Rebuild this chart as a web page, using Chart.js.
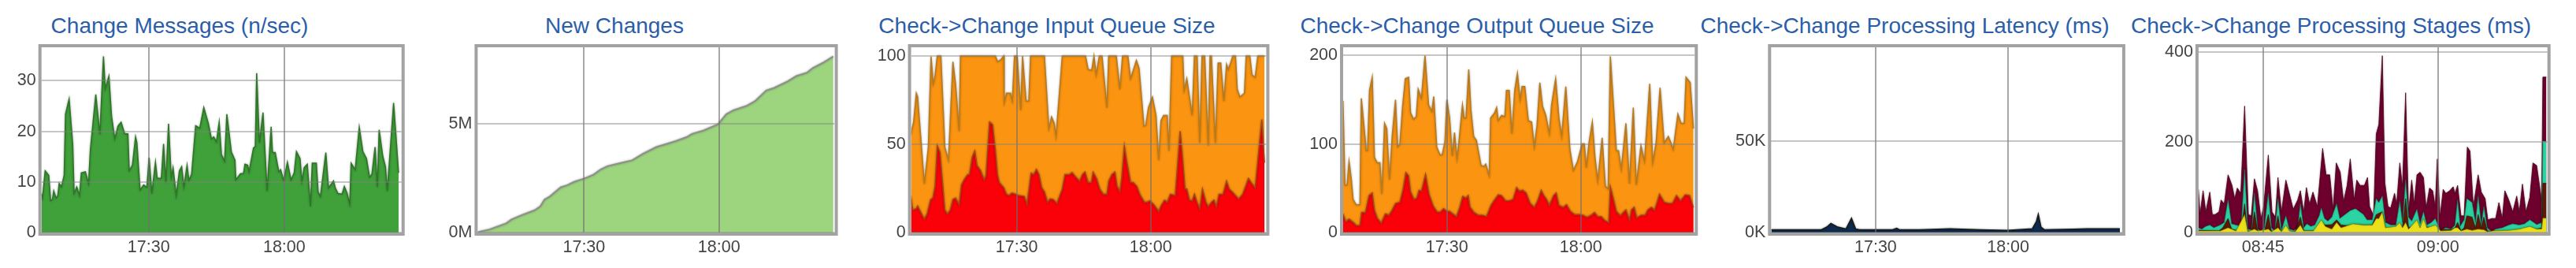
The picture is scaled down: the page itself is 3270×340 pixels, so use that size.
<!DOCTYPE html>
<html><head><meta charset="utf-8">
<script src="https://cdn.jsdelivr.net/npm/chart.js@4.4.1/dist/chart.umd.min.js"></script>
<style>
html,body{margin:0;padding:0;background:#fff;width:3270px;height:340px;overflow:hidden;position:relative;}
canvas{position:absolute;top:0;}
.title{position:absolute;top:19px;font-family:"Liberation Sans",Arial,sans-serif;font-size:28px;line-height:28px;color:#2b5ea9;white-space:nowrap;transform:translateX(-50%);}
</style></head><body>
<div class="title" style="left:228px">Change Messages (n/sec)</div>
<div class="title" style="left:780px">New Changes</div>
<div class="title" style="left:1329px">Check-&gt;Change Input Queue Size</div>
<div class="title" style="left:1875px">Check-&gt;Change Output Queue Size</div>
<div class="title" style="left:2418px">Check-&gt;Change Processing Latency (ms)</div>
<div class="title" style="left:2959px">Check-&gt;Change Processing Stages (ms)</div>
<canvas id="c1" width="545" height="340" style="left:0px"></canvas>
<canvas id="c2" width="545" height="340" style="left:545px"></canvas>
<canvas id="c3" width="545" height="340" style="left:1090px"></canvas>
<canvas id="c4" width="545" height="340" style="left:1635px"></canvas>
<canvas id="c5" width="545" height="340" style="left:2180px"></canvas>
<canvas id="c6" width="545" height="340" style="left:2725px"></canvas>
<script>
// ---- x tick labels (minutes after the hour) ----
const eveningTicks = [30, 60];
const eveningLabels = ['17:30', '18:00'];
const morningTicks = [45, 60];
const morningLabels = ['08:45', '09:00'];

// ---- Change Messages (n/sec); time = minutes after 17:00 ----
const msgTimes = [6.2,6.5,7.1,7.9,8.3,8.7,9.0,9.5,9.9,10.2,10.7,11.3,11.6,12.4,13.2,13.5,14.1,14.7,15.1,16.0,16.7,17.1,18.3,19.2,20.0,20.4,21.2,21.8,22.5,23.2,23.9,24.7,25.4,25.7,26.4,27.1,27.4,28.1,28.9,29.6,30.1,30.7,31.5,31.9,32.8,33.3,33.8,34.4,35.0,35.4,36.1,36.8,37.3,37.8,38.5,38.9,39.5,40.4,41.3,42.2,43.2,43.9,44.4,45.0,45.6,46.1,46.8,47.3,48.3,49.1,49.3,50.3,51.0,51.3,51.9,52.2,53.2,53.6,53.9,54.5,55.3,56.2,57.1,57.4,58.0,58.8,59.2,59.9,60.7,61.5,62.2,62.7,63.5,63.9,64.4,65.1,65.8,66.2,67.1,67.5,68.0,69.2,69.8,70.9,71.3,71.9,72.8,73.3,73.9,74.5,74.8,75.7,76.6,77.4,78.2,78.9,79.4,80.1,80.6,81.0,81.8,82.4,82.8,84.2,85.3];
const msgValues = [7.8,6.8,12.2,11.3,6.3,6.5,8.2,6.8,7.3,9.7,9.0,11.3,23.4,26.4,17.4,7.7,9.0,7.3,11.8,12.0,9.7,16.4,27.3,19.4,34.8,28.4,30.9,22.9,18.5,21.0,21.8,19.5,19.5,12.2,13.3,18.9,17.7,8.4,9.4,8.9,14.8,7.7,13.9,10.7,10.7,17.5,9.9,21.5,10.9,12.8,7.3,12.2,13.0,9.0,13.3,10.3,11.5,21.1,20.6,24.7,21.6,18.5,18.9,17.9,21.8,15.4,14.1,23.4,15.9,14.3,10.4,11.6,11.7,13.5,13.3,12.0,16.7,17.0,31.5,17.7,23.7,8.2,20.9,15.8,15.8,12.0,12.4,10.2,13.9,10.4,11.8,16.0,14.6,10.1,12.8,13.5,5.2,13.7,13.7,8.0,7.1,15.8,8.8,10.2,8.8,7.7,7.6,9.1,7.8,5.6,13.7,12.4,20.8,16.0,14.6,10.9,11.5,16.9,9.0,20.3,15.1,13.0,8.2,25.6,11.8];
const msgYTicks = [0, 10, 20, 30];

// ---- New Changes (millions) ----
const newTimes = [6.4,9.0,12.7,13.9,16.3,19.0,20.3,21.2,22.4,24.8,26.3,27.9,30.0,32.1,33.7,35.2,38.2,40.7,43.1,46.1,48.0,50.4,52.8,54.0,56.5,59.8,61.6,63.2,66.2,68.0,70.5,72.3,75.3,77.2,79.6,80.8,83.3,85.4];
const newMillions = [0.02,0.14,0.42,0.60,0.81,1.02,1.20,1.51,1.65,2.07,2.17,2.33,2.47,2.65,2.89,3.04,3.19,3.31,3.61,3.92,4.04,4.19,4.37,4.52,4.67,4.96,5.42,5.60,5.81,6.02,6.51,6.63,6.93,7.17,7.33,7.53,7.80,8.07];
const newYTicks = [0, 5];
const newYLabels = ['0M', '5M'];

// ---- Input queue size: max (orange) and avg (red) ----
const inMaxTimes = [6.2,6.9,7.5,7.8,9.3,10.2,10.8,11.3,11.7,12.2,13.0,13.9,14.7,15.1,15.7,16.3,17.1,17.4,25.2,25.7,26.4,27.1,27.2,27.7,28.6,29.0,29.5,30.1,30.9,31.3,32.1,32.7,33.1,36.2,37.2,37.8,38.4,38.8,40.2,45.4,46.0,46.8,47.3,47.8,48.5,49.1,50.2,50.6,52.3,53.1,53.7,54.9,55.5,56.8,57.4,58.5,58.9,59.5,60.4,61.2,61.8,62.3,62.9,63.7,64.1,64.7,67.2,67.5,68.1,69.3,69.8,70.4,71.0,71.5,72.1,72.9,73.3,73.6,74.5,75.1,75.7,76.4,77.0,77.4,77.9,78.4,79.0,79.4,80.0,81.0,81.4,82.2,82.7,83.4,84.0,85.5];
const inMaxValues = [55.1,62.6,78.9,76.7,27.6,48.4,99.7,84.1,88.6,100,100,48.4,41.0,63.3,96.7,84.1,57.4,100,100,96.7,97.8,100,73.7,78.9,78.9,74.4,100,100,69.2,100,74.4,74.4,100,100,58.8,65.5,61.8,54.4,100,100,92.3,91.8,100,89.3,100,100,70.7,100,100,81.1,100,100,87.1,97.5,93.0,60.3,60.6,70.7,76.7,66.3,41.0,63.3,66.3,66.3,46.2,100,100,80.4,87.1,66.3,100,100,50.7,100,100,49.2,100,100,50.7,96.0,96.0,74.4,95.2,92.3,96.0,100,100,81.1,76.7,78.9,100,100,89.3,87.8,100,100];
const inAvgTimes = [6.2,6.7,7.5,7.8,8.4,9.3,9.9,10.7,11.2,11.7,12.2,12.8,13.3,13.9,14.5,15.1,15.7,16.3,17.1,17.6,18.2,19.0,19.4,20.0,20.6,21.1,21.9,22.7,23.1,23.9,24.6,25.2,25.7,26.1,27.1,27.7,28.3,28.9,29.8,30.4,31.7,32.3,33.2,33.8,34.4,35.0,35.6,36.2,36.9,37.5,38.2,39.0,40.2,40.8,41.8,42.4,43.1,44.1,44.7,45.3,46.0,46.7,47.1,47.9,48.6,49.4,50.2,50.6,51.3,52.0,52.5,53.1,53.5,54.1,54.6,55.5,56.1,56.9,57.7,58.6,59.2,59.8,60.7,61.8,62.3,63.1,63.7,64.4,65.5,66.6,67.1,67.7,68.1,68.7,69.3,69.8,70.4,71.0,71.6,72.4,72.9,73.6,74.2,74.7,75.3,76.2,77.0,77.6,78.5,79.7,80.6,81.9,82.5,83.4,84.9,85.5];
const inAvgValues = [21.0,12.8,13.5,15.0,12.0,7.6,10.5,18.7,19.5,26.2,49.2,45.5,30.6,12.8,10.5,12.8,18.7,19.5,15.8,26.9,29.9,32.8,32.8,42.5,46.2,38.0,35.1,29.9,32.1,62.6,61.1,47.0,32.8,28.4,25.4,21.7,21.0,22.4,21.7,21.0,20.5,16.0,33.6,32.8,35.8,32.8,25.4,23.2,17.2,19.0,18.7,16.5,24.7,32.8,32.8,34.0,31.8,29.1,32.8,34.3,28.4,28.4,34.3,30.6,24.7,21.7,21.7,29.1,32.8,34.3,26.2,23.2,30.6,49.2,41.0,28.4,28.4,26.2,21.0,17.2,17.2,18.0,15.8,12.0,15.0,18.4,17.2,21.7,21.0,57.4,44.0,24.7,24.7,18.4,18.0,21.7,17.2,13.5,24.7,17.2,14.7,17.2,18.4,14.6,21.7,21.7,29.1,24.7,22.4,19.0,21.7,30.6,28.4,25.4,64.0,39.5];
const inYTicks = [0, 50, 100];

// ---- Output queue size: max (orange) and avg (red) ----
const outMaxTimes = [6.73,7.16,7.65,8.08,8.57,9.00,9.67,10.53,10.83,11.32,11.94,12.24,12.67,13.28,13.77,14.38,15.00,15.43,16.04,16.53,17.14,17.75,18.49,18.98,19.47,20.08,20.69,21.43,21.86,22.53,23.14,23.57,24.30,25.10,25.90,26.63,27.06,27.73,28.47,28.96,29.57,30.00,30.61,31.22,31.71,32.27,32.76,33.49,33.86,34.29,34.90,35.39,36.00,36.61,37.16,37.65,38.27,38.70,39.49,39.80,40.72,41.15,41.51,42.25,42.98,43.35,43.96,44.57,45.19,45.80,46.41,46.84,47.45,48.25,48.98,49.60,50.21,50.82,51.43,52.17,52.96,53.45,54.37,55.11,55.72,56.64,57.56,58.35,59.27,60.31,60.80,61.23,61.84,62.58,63.19,63.80,64.78,65.52,66.13,66.62,67.97,68.46,69.07,70.11,70.91,71.76,72.44,73.48,74.27,75.44,76.11,76.85,77.76,78.68,79.60,80.21,80.70,81.75,82.48,83.15,83.58,84.50,85.24];
const outMaxValues = [148.7,53.7,53.7,80.4,61.1,37.4,31.5,31.5,151.6,126.4,92.3,92.3,160.5,175.4,84.9,78.9,78.9,43.3,123.4,117.5,59.6,108.6,150.1,96.7,99.7,142.7,173.9,175.4,135.3,127.9,130.9,162.0,151.6,200,144.2,136.8,153.7,96.7,87.8,87.8,102.7,150.1,129.4,86.4,113.1,83.4,105.6,144.2,129.4,129.4,184.3,138.3,108.6,104.2,89.3,76.0,74.5,77.4,64.1,129.4,135.3,141.2,126.4,132.3,130.9,160.5,160.5,111.6,160.5,179.8,150.1,165.0,165.0,126.4,124.9,96.7,122.0,169.4,142.7,132.3,111.6,144.2,173.9,129.4,108.6,165.0,93.8,70.0,80.4,100.3,100.3,73.0,101.2,124.9,84.9,58.2,107.1,52.2,49.3,199.1,92.3,92.3,71.5,123.4,55.2,141.2,53.7,98.2,80.4,168.0,78.9,101.2,163.5,101.2,108.6,101.2,93.8,133.8,123.4,123.4,175.4,169.4,117.5];
const outAvgTimes = [6.73,7.34,8.08,8.87,9.79,10.53,10.89,11.75,12.55,13.28,13.77,14.38,15.30,16.22,17.02,17.75,18.49,19.47,20.20,20.81,21.43,21.86,22.65,23.26,23.75,24.30,25.22,26.02,26.94,27.86,28.47,29.27,30.00,30.61,31.35,32.14,32.88,33.55,34.29,34.78,35.21,36.12,37.04,37.96,38.88,39.80,40.53,41.51,42.25,43.17,43.96,44.82,45.62,46.23,47.02,47.76,48.68,49.60,50.33,51.13,51.74,52.35,52.96,53.88,54.49,55.11,56.02,56.82,57.68,58.66,59.58,60.50,61.35,62.33,63.07,63.80,64.60,65.39,66.25,66.62,67.35,67.97,68.88,69.50,70.11,70.91,71.33,71.95,72.56,73.48,74.40,75.01,75.81,76.54,77.64,78.68,79.60,80.52,81.44,82.36,83.40,84.38,85.24];
const outAvgValues = [21.1,12.2,15.1,12.2,7.7,8.3,22.6,22.6,41.8,44.8,25.5,16.6,10.7,21.1,19.6,25.5,32.9,34.4,49.3,67.7,64.1,46.3,37.4,38.9,47.8,46.9,65.6,43.3,30.0,23.1,23.1,27.0,24.0,24.0,21.1,18.1,28.5,40.9,38.9,41.8,28.5,22.6,19.6,19.6,18.1,30.0,35.9,42.7,41.8,35.9,35.9,37.4,50.7,46.9,47.8,44.8,32.9,28.5,35.9,47.8,41.8,37.4,30.9,41.8,44.8,30.9,28.5,31.5,24.0,20.2,20.2,19.6,17.2,19.6,22.6,18.1,18.1,13.6,11.3,51.6,37.4,24.0,19.0,22.6,25.5,14.2,25.5,28.5,16.6,19.6,19.6,25.5,28.5,25.5,43.3,34.4,32.9,32.9,41.8,35.9,42.7,41.8,28.5];
const outYTicks = [0, 100, 200];

// ---- Processing latency (ms) ----
const latTimes = [6.38,17.72,18.96,19.89,21.44,23.30,24.54,25.47,26.40,33.84,34.77,35.39,40.04,46.86,53.68,59.88,65.46,66.39,66.83,67.45,68.25,74.76,77.86,85.30];
const latValues = [1500,1500,3000,5000,3000,2000,7800,2000,1500,1500,2300,1500,1500,2000,1500,1200,2000,6000,10000,3000,1500,1800,2000,2000];
const latYTicks = [0, 50000];
const latYLabels = ['0K', '50K'];

// ---- Processing stages (ms), cumulative tops; time = minutes after 08:00 ----
const stageTotalTimes = [39.46,39.59,39.86,40.09,40.43,40.65,40.88,41.22,41.40,41.67,42.00,42.34,42.57,42.79,43.09,43.42,43.74,43.99,44.26,44.53,44.82,45.05,45.45,45.77,46.06,46.28,46.58,46.96,47.25,47.59,47.97,48.20,48.49,48.72,48.99,49.28,49.66,50.11,50.41,50.72,51.01,51.28,51.62,51.91,52.21,52.48,52.82,53.04,53.33,53.69,53.96,54.14,54.48,54.71,54.93,55.23,55.45,55.72,55.95,56.28,56.46,56.73,56.96,57.23,57.48,57.75,57.97,58.20,58.47,58.76,58.99,59.28,59.55,59.77,59.95,60.18,60.45,60.68,61.01,61.31,61.46,61.69,61.98,62.25,62.52,62.75,63.04,63.45,63.72,64.05,64.28,64.62,64.95,65.23,65.52,65.74,66.08,66.42,66.76,66.98,67.25,67.55,67.88,68.15,68.47,68.9,69.0,69.3];
const stageTotalValues = [95.5,39.8,92.6,45.7,89.6,39.8,39.8,45.7,72.1,63.3,127.7,104.3,75.0,98.4,86.7,280.0,39.8,36.9,118.9,92.6,31.0,57.4,171.6,45.7,34.0,121.9,45.7,116.0,86.7,51.6,72.1,92.6,45.7,99.6,63.3,89.6,57.4,186.3,127.7,127.7,51.6,154.1,133.6,69.1,104.3,162.9,72.1,116.0,104.3,104.3,121.9,57.4,36.9,218.5,239.0,391.3,110.1,57.4,54.5,86.7,63.3,154.1,101.3,309.3,45.7,116.0,63.3,127.7,133.6,121.9,54.5,98.4,92.6,57.4,162.9,34.0,95.5,86.7,92.6,101.3,86.7,104.3,36.9,36.9,189.2,180.4,57.4,127.7,89.6,75.0,28.1,31.0,31.0,66.2,31.0,92.6,72.1,45.7,80.8,45.7,107.2,45.7,77.9,154.1,148.2,70,344,344];
const stageTealTimes = [39.46,39.75,40.09,40.43,40.77,41.33,41.67,42.00,42.30,42.68,43.13,43.42,43.69,44.03,44.26,44.55,44.82,45.11,45.45,45.72,46.01,46.28,46.58,46.96,47.25,47.64,47.97,48.20,48.49,48.76,49.10,49.44,49.82,50.00,50.27,50.56,50.90,51.31,51.58,52.03,52.48,52.93,53.60,53.92,54.37,54.71,54.93,55.23,55.50,55.95,56.40,56.73,56.96,57.23,57.48,57.75,58.20,58.47,58.76,59.05,59.44,59.77,60.00,60.23,60.68,61.13,61.46,61.69,61.91,62.25,62.48,62.93,63.22,63.45,63.72,63.94,64.23,64.62,64.95,65.52,66.08,66.42,66.98,67.43,67.88,68.22,68.47,68.9,69.0,69.3];
const stageTealValues = [10.5,7.6,13.5,16.4,10.5,16.4,22.3,72.1,19.3,16.4,13.5,139.4,7.6,5.9,86.7,7.6,3.5,10.5,86.7,10.5,3.5,75.0,4.7,36.9,7.6,4.7,10.5,63.3,10.5,19.3,13.5,16.4,36.9,54.5,31.0,25.2,34.0,63.3,31.0,39.8,48.6,52.7,40.0,28.0,28.1,75.0,66.2,80.8,22.3,16.4,16.4,69.1,22.3,116.0,34.0,25.2,51.6,19.3,45.7,16.4,22.3,31.0,16.4,4.7,10.5,7.6,16.4,72.1,13.5,28.1,75.0,66.2,22.3,80.8,16.4,57.4,10.5,1.8,7.6,10.5,16.4,19.3,16.4,19.3,28.1,22.3,17.6,22,202,202];
const stageBrownTimes = [39.46,41.22,41.55,42.00,42.30,42.68,43.13,43.42,43.65,44.03,44.26,44.55,45.11,45.45,45.72,46.01,46.28,46.51,47.75,48.20,48.49,49.55,50.00,50.34,50.90,51.31,51.69,52.25,52.93,53.60,54.37,54.71,55.23,55.50,56.40,56.73,56.96,57.23,57.48,58.20,58.47,58.87,59.32,60.00,61.13,61.46,61.69,61.98,62.25,62.48,62.93,63.22,63.45,63.72,63.94,64.23,64.73,66.08,67.43,67.88,68.47,68.9,69.0,69.3];
const stageBrownValues = [4.7,3.5,10.5,31.0,7.6,4.7,1.8,63.3,1.8,1.8,45.7,1.8,1.8,39.8,1.8,1.8,36.9,1.8,1.8,34.0,3.5,3.5,22.3,16.4,17.6,28.1,16.4,15.2,17.6,16.4,16.4,39.8,45.7,7.6,7.6,16.4,10.5,75.0,10.5,16.4,10.5,13.5,10.5,7.6,5.9,10.5,22.3,3.5,10.5,36.9,34.0,10.5,39.8,10.5,34.0,3.5,1.8,3.5,7.6,10.5,7.6,10,109,109];
const stageYellowTimes = [39.46,40.09,40.77,41.33,42.00,42.68,43.42,43.69,44.26,44.55,45.45,45.72,46.28,46.58,46.96,47.25,47.75,48.20,48.49,49.32,50.00,50.34,50.90,51.31,51.69,52.25,52.70,53.60,54.37,54.71,54.93,55.23,55.50,56.40,56.73,56.96,57.23,57.48,58.20,58.47,58.76,59.05,59.77,60.00,60.23,61.13,61.46,61.69,61.98,62.48,62.93,63.45,63.94,64.23,64.73,66.08,66.98,67.88,68.47,68.9,69.0,69.3];
const stageYellowValues = [3.5,3.5,3.5,3.5,10.5,3.5,39.8,1.8,7.6,3.5,7.6,1.8,10.5,1.8,16.4,3.5,1.8,16.4,3.5,3.5,28.1,13.5,7.6,22.3,10.5,15.2,19.3,16.4,16.4,31.0,31.0,45.7,10.5,13.5,22.3,10.5,22.3,7.6,28.1,10.5,31.0,10.5,16.4,10.5,3.5,4.7,10.5,10.5,3.5,7.6,4.7,7.6,5.9,1.8,3.5,4.7,7.6,13.5,7.6,8,32,32];
const stageYTicks = [0, 200, 400];

// ---------------- rendering ----------------
Chart.defaults.font.family = '"Liberation Sans", Arial, sans-serif';

const framePlugin = {
  id: 'frame',
  afterDraw(chart) {
    const a = chart.chartArea, ctx = chart.ctx;
    ctx.save();
    ctx.strokeStyle = '#a2a2a2';
    ctx.lineWidth = 4;
    ctx.strokeRect(a.left - 2, a.top - 2, a.right - a.left + 4, a.bottom - a.top + 4);
    ctx.restore();
  }
};
const glowPlugin = {
  id: 'glow',
  beforeDatasetsDraw(chart, args, opts) {
    const ctx = chart.ctx;
    ctx.save();
    ctx.shadowColor = opts.color || 'rgba(0,0,0,0.3)';
    ctx.shadowBlur = opts.blur || 3;
  },
  afterDatasetsDraw(chart) { chart.ctx.restore(); }
};

const tickFont = { size: 21.5, family: '"Liberation Sans", Arial, sans-serif' };
const tickColor = '#444';

function series(times, values, fill, line, lw) {
  return {
    data: times.map((t, i) => ({ x: t, y: values[i] })),
    backgroundColor: fill, borderColor: line, borderWidth: lw,
    fill: 'origin', pointRadius: 0, tension: 0
  };
}

function makeChart(id, cfg) {
  return new Chart(document.getElementById(id), {
    type: 'line',
    data: { datasets: cfg.datasets },
    options: {
      responsive: false, animation: false, events: [],
      layout: { padding: { left: 0, right: cfg.padR, top: 60, bottom: 0 } },
      plugins: { legend: { display: false }, tooltip: { enabled: false }, glow: cfg.glow || {} },
      scales: {
        x: {
          type: 'linear', min: cfg.xMin, max: cfg.xMax, bounds: 'data',
          afterBuildTicks: (s) => { s.ticks = cfg.xTicks.map(v => ({ value: v })); },
          afterFit: (s) => { s.height = 45; },
          ticks: { callback: (v) => cfg.xLabels[cfg.xTicks.indexOf(v)], padding: 6, maxRotation: 0, autoSkip: false, font: tickFont, color: tickColor },
          grid: { color: 'rgba(110,110,110,0.6)', lineWidth: 2, drawTicks: false, z: 1 },
          border: { display: false }
        },
        y: {
          type: 'linear', min: 0, max: cfg.yMax, bounds: 'data',
          afterBuildTicks: (s) => { s.ticks = cfg.yTicks.map(v => ({ value: v })); },
          afterFit: (s) => { s.width = cfg.yw; },
          ticks: { callback: (v) => cfg.yLabels ? cfg.yLabels[cfg.yTicks.indexOf(v)] : String(v), padding: 7, font: tickFont, color: tickColor },
          grid: { color: 'rgba(128,128,128,0.45)', lineWidth: 2, drawTicks: false, z: 1 },
          border: { display: false }
        }
      }
    },
    plugins: [glowPlugin, framePlugin]
  });
}

makeChart('c1', {
  yw: 52.7, padR: 35.3, xMin: 6.29, xMax: 85.95, yMax: 36.6,
  xTicks: eveningTicks, xLabels: eveningLabels, yTicks: msgYTicks,
  datasets: [series(msgTimes, msgValues, '#40a03a', '#2c7626', 1.5)]
});
makeChart('c2', {
  yw: 61.4, padR: 30.4, xMin: 6.36, xMax: 85.73, yMax: 8.49,
  xTicks: eveningTicks, xLabels: eveningLabels, yTicks: newYTicks, yLabels: newYLabels,
  datasets: [series(newTimes, newMillions, '#9dd57f', '#8d918a', 2)]
});
makeChart('c3', {
  yw: 66.6, padR: 27.6, xMin: 6.34, xMax: 85.89, yMax: 104.9,
  xTicks: eveningTicks, xLabels: eveningLabels, yTicks: inYTicks,
  datasets: [
    series(inAvgTimes, inAvgValues, '#fa0009', '#a8441a', 1.5),
    series(inMaxTimes, inMaxValues, '#fb9410', '#b87a1c', 1.5)
  ]
});
makeChart('c4', {
  yw: 70, padR: 28.7, xMin: 6.76, xMax: 85.52, yMax: 209.3,
  xTicks: eveningTicks, xLabels: eveningLabels, yTicks: outYTicks,
  datasets: [
    series(outAvgTimes, outAvgValues, '#fa0009', '#a8441a', 1.5),
    series(outMaxTimes, outMaxValues, '#fb9410', '#b87a1c', 1.5)
  ]
});
makeChart('c5', {
  yw: 68.3, padR: 31.1, xMin: 6.35, xMax: 85.82, yMax: 101300,
  xTicks: eveningTicks, xLabels: eveningLabels, yTicks: latYTicks, yLabels: latYLabels,
  datasets: [series(latTimes, latValues, '#0c2b4e', '#1a1a1a', 1.5)]
});
makeChart('c6', {
  yw: 65.9, padR: 36.3, xMin: 39.47, xMax: 69.39, yMax: 410,
  xTicks: morningTicks, xLabels: morningLabels, yTicks: stageYTicks,
  glow: { color: 'rgba(0,0,0,0.25)', blur: 3 },
  datasets: [
    series(stageYellowTimes, stageYellowValues, '#ebe01a', 'rgba(120,110,0,0.6)', 1),
    series(stageBrownTimes, stageBrownValues, '#5e1a07', 'rgba(60,10,0,0.6)', 1),
    series(stageTealTimes, stageTealValues, '#2ad5a3', 'rgba(20,120,90,0.6)', 1),
    series(stageTotalTimes, stageTotalValues, '#6d002d', 'rgba(80,0,30,0.8)', 1)
  ]
});
</script>
</body></html>
